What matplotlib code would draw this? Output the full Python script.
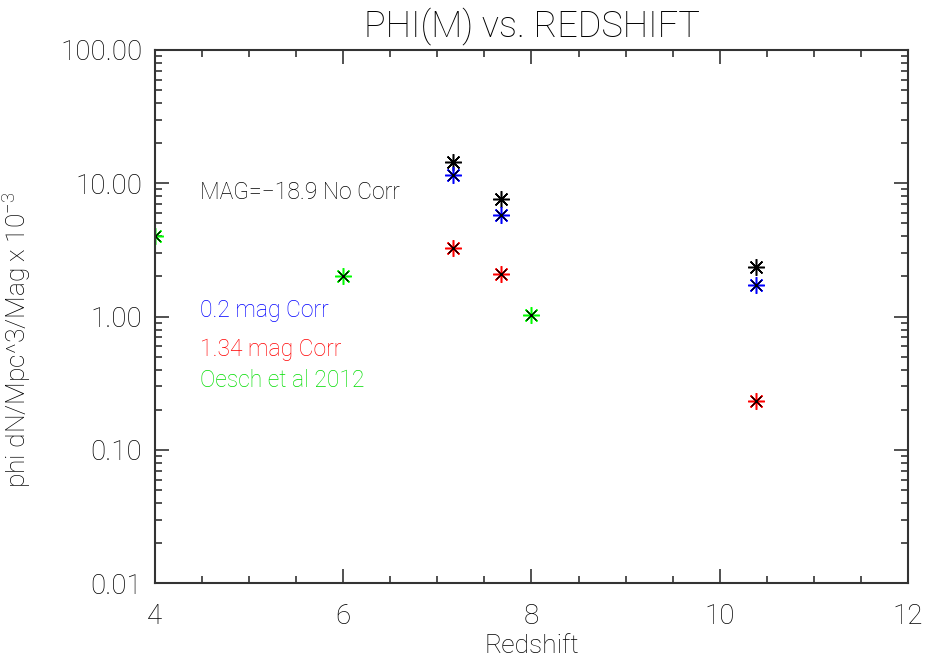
import numpy as np
import matplotlib
matplotlib.use('Agg')
import matplotlib.pyplot as plt
from matplotlib.ticker import MultipleLocator, LogLocator, FormatStrFormatter, NullFormatter

# redshift bins and number densities (units of 1e-3 / Mpc^3 / mag)
z_bins = [7.17, 7.68, 10.38]
phi_nocorr = [14.4, 7.6, 2.36]
phi_corr02 = [11.5, 5.8, 1.73]
phi_corr134 = [3.3, 2.1, 0.233]

z_oesch = [4.0, 6.0, 8.0]
phi_oesch = [4.0, 2.0, 1.03]

plt.rcParams['font.family'] = ['Roboto', 'DejaVu Sans']
plt.rcParams['font.weight'] = 'light'
plt.rcParams['axes.titleweight'] = 'light'
plt.rcParams['axes.labelweight'] = 'light'
plt.rcParams['mathtext.default'] = 'regular'

ASTER = (8, 2, 0)
axcol = '#333333'
txtcol = '#000000'

fig = plt.figure(figsize=(9.27, 6.62), dpi=100)
ax = fig.add_axes([0.1672, 0.1189, 0.8123, 0.8056])


def star(x, y, color):
    ax.plot(x, y, ls='none', marker=ASTER, ms=12, mew=1.1, color=color)
    if color != 'k':
        ax.plot(x, y, ls='none', marker='x', ms=7.5, mew=1.0, color='k')


star(z_bins, phi_nocorr, 'k')
star(z_bins, phi_corr02, '#0000ff')
star(z_bins, phi_corr134, '#ff0000')
star(z_oesch, phi_oesch, '#00ff00')

ax.set_yscale('log')
ax.set_xlim(4, 12)
ax.set_ylim(0.01, 100)

ax.xaxis.set_major_locator(MultipleLocator(2))
ax.xaxis.set_minor_locator(MultipleLocator(0.5))
ax.yaxis.set_major_locator(LogLocator(base=10, numticks=10))
ax.yaxis.set_minor_locator(LogLocator(base=10, subs=np.arange(2, 10), numticks=10))
ax.yaxis.set_major_formatter(FormatStrFormatter('%.2f'))
ax.yaxis.set_minor_formatter(NullFormatter())

ax.tick_params(which='both', direction='in', top=True, right=True,
               color=axcol, width=1.2, labelsize=20, labelcolor=txtcol)
ax.tick_params(axis='x', pad=14)
ax.tick_params(axis='y', pad=9)
ax.tick_params(which='major', length=10)
ax.tick_params(which='minor', length=5)
for sp in ax.spines.values():
    sp.set_color(axcol)
    sp.set_linewidth(1.5)

ax.set_xlabel('Redshift', fontsize=19, color=txtcol, labelpad=3)
ax.set_ylabel('phi dN/Mpc^3/Mag x 10$^{-3}$', fontsize=19, color=txtcol)
ax.yaxis.set_label_coords(-0.162, 0.456)
ax.set_title('PHI(M) vs. REDSHIFT', fontsize=26, color=txtcol, pad=10)

ax.text(0.06, 0.732, 'MAG=\u221218.9 No Corr', transform=ax.transAxes,
        fontsize=16.5, color=txtcol, va='center')
ax.text(0.06, 0.511, '0.2 mag Corr', transform=ax.transAxes,
        fontsize=16.5, color='#0000ff', va='center')
ax.text(0.06, 0.438, '1.34 mag Corr', transform=ax.transAxes,
        fontsize=16.5, color='#ff0000', va='center')
ax.text(0.06, 0.381, 'Oesch et al 2012', transform=ax.transAxes,
        fontsize=16.5, color='#00dd00', va='center')

fig.savefig('out.png', dpi=100)
